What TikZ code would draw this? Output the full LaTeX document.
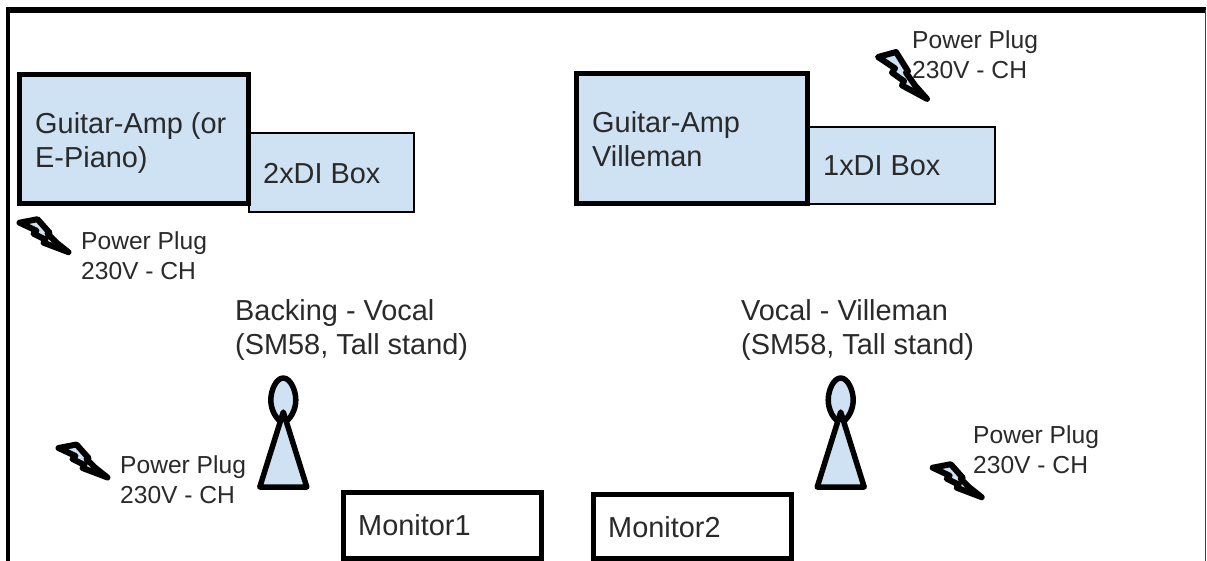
\documentclass[tikz,border=0pt]{standalone}
\usepackage{fontspec}
\setmainfont{Liberation Sans}
\definecolor{fillblue}{HTML}{CFE2F3}
\definecolor{ink}{HTML}{2A2A2A}
\tikzset{
  x=1pt,y=-1pt,
  ampbox/.style={draw=black,line width=5pt,fill=fillblue},
  dibox/.style={draw=black,line width=2.5pt,fill=fillblue},
  monbox/.style={draw=black,line width=5pt,fill=white},
  micpart/.style={draw=black,line width=5.5pt,fill=fillblue,line join=round},
  plugshape/.style={draw=black,line width=6pt,fill=fillblue,line join=round},
  big/.style={font=\fontsize{28.9}{34}\selectfont,text=ink,anchor=base west,align=left,inner sep=0pt},
  small/.style={font=\fontsize{24.6}{30}\selectfont,text=ink,anchor=base west,align=left,inner sep=0pt},
}
\newcommand{\plugat}[3]{% x y yscale
  \path[plugshape,shift={(#1,#2)},yscale=#3]
    (0,0) -- (18,-3.5) -- (30,10) -- (28,11) -- (37,20) -- (49,29.5) -- (24,20) -- (26,17) -- (14,11) -- (17,8) -- cycle;
}
\newcommand{\micat}[1]{%
  \path[micpart] (#1,378) .. controls (#1+7,378) and (#1+12.5,390) .. (#1+12.5,400)
     .. controls (#1+12.5,410) and (#1+7,420) .. (#1,423)
     .. controls (#1-7,420) and (#1-12.5,410) .. (#1-12.5,400)
     .. controls (#1-12.5,390) and (#1-7,378) .. (#1,378) -- cycle;
  \path[micpart] (#1,412) -- (#1+23.5,487) -- (#1-23.5,487) -- cycle;
}
\begin{document}
\begin{tikzpicture}
\useasboundingbox (0,0) rectangle (1207,560);
\fill[white] (0,0) rectangle (1207,560);
\draw[black,line width=4pt] (8,570) -- (8,10);
\draw[black,line width=6pt] (6,10) -- (1206,10);
\draw[black!75,line width=1.5pt] (1205.5,10) -- (1205.5,570);

\node[dibox,minimum width=165pt,minimum height=79pt,inner sep=0pt] (di2) at (331.5,172.5) {};
\node[ampbox,minimum width=229pt,minimum height=129pt,inner sep=0pt] (amp2) at (134,139) {};
\node[dibox,minimum width=186pt,minimum height=77pt,inner sep=0pt] (di1) at (902,165.5) {};
\node[ampbox,minimum width=231pt,minimum height=130pt,inner sep=0pt] (amp1) at (692,138.5) {};
\node[monbox,minimum width=198pt,minimum height=66pt,inner sep=0pt] (mon1) at (442.5,525.5) {};
\node[monbox,minimum width=198pt,minimum height=64pt,inner sep=0pt] (mon2) at (692.5,526.5) {};

\micat{283.3}
\micat{840.7}

\plugat{19.5}{222.7}{1}
\plugat{878}{57}{1.42}
\plugat{58.5}{448}{1}
\plugat{932.7}{467.7}{1}

\node[big] (t1) at (35,167) {Guitar-Amp (or\\E-Piano)};
\node[big] (t2) at (263,183) {2xDI Box};
\node[big] (t3) at (592,166) {Guitar-Amp\\Villeman};
\node[big] (t4) at (823,175) {1xDI Box};
\node[big] (t5) at (235,354) {Backing - Vocal\\(SM58, Tall stand)};
\node[big] (t6) at (741,354) {Vocal - Villeman\\(SM58, Tall stand)};
\node[big] (t7) at (358,535) {Monitor1};
\node[big] (t8) at (608,537) {Monitor2};
\node[small] (p1) at (81,279) {Power Plug\\230V - CH};
\node[small] (p2) at (912,78) {Power Plug\\230V - CH};
\node[small] (p3) at (120,503) {Power Plug\\230V - CH};
\node[small] (p4) at (973,473) {Power Plug\\230V - CH};
\end{tikzpicture}
\end{document}
